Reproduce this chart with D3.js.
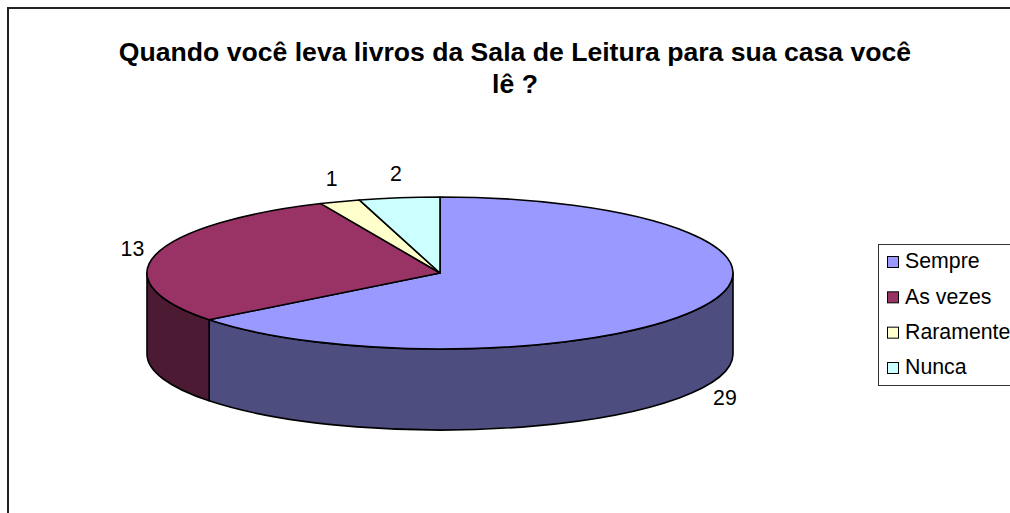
<!DOCTYPE html>
<html>
<head>
<meta charset="utf-8">
<script src="https://cdnjs.cloudflare.com/ajax/libs/d3/7.8.5/d3.min.js"></script>
<style>
  html, body { margin: 0; padding: 0; background: #fff; }
  svg { display: block; }
  text { font-family: "Liberation Sans", Arial, sans-serif; fill: #000; }
</style>
</head>
<body>
<div id="chart"></div>
<script>
const categories = ["Sempre", "As vezes", "Raramente", "Nunca"];
const values = [29, 13, 1, 2];
const topColors = ["#9999ff", "#993366", "#ffffcc", "#ccffff"];
const sideColors = ["#4d4d80", "#4d1a33", "#808066", "#668080"];
const titleLines = ["Quando você leva livros da Sala de Leitura para sua casa você", "lê ?"];

const width = 1010, height = 513;
const cx = 440, cy = 273, rx = 293, ry = 76, depth = 81;

const svg = d3.select("#chart")
  .append("svg")
    .attr("width", width)
    .attr("height", height);

// outer frame, runs off the right and bottom of the picture
svg.append("rect")
  .attr("x", 8)
  .attr("y", 8)
  .attr("width", width + 20)
  .attr("height", height + 20)
  .attr("fill", "#fff")
  .attr("stroke", "#222")
  .attr("stroke-width", 2);

// title
svg.selectAll(".title")
  .data(titleLines)
  .join("text")
    .attr("class", "title")
    .attr("x", 515)
    .attr("y", (d, i) => 61 + i * 32)
    .attr("text-anchor", "middle")
    .style("font-size", "26.6px")
    .style("font-weight", "bold")
    .text(d => d);

const pie = d3.pie().sort(null);
const arcs = pie(values);

// angle is clockwise from 12 o'clock, same as d3.pie
const px = a => cx + rx * Math.sin(a);
const py = a => cy - ry * Math.cos(a);

// side walls: only the front half of the ellipse shows
const front = [Math.PI / 2, 3 * Math.PI / 2];
svg.append("g").selectAll("path")
  .data(arcs.filter(d => d.endAngle > front[0] && d.startAngle < front[1]))
  .join("path")
    .attr("d", d => {
      const a0 = Math.max(d.startAngle, front[0]);
      const a1 = Math.min(d.endAngle, front[1]);
      return `M${px(a0)},${py(a0)}`
        + `A${rx},${ry} 0 0 1 ${px(a1)},${py(a1)}`
        + `L${px(a1)},${py(a1) + depth}`
        + `A${rx},${ry} 0 0 0 ${px(a0)},${py(a0) + depth}Z`;
    })
    .attr("fill", d => sideColors[d.index])
    .attr("stroke", "#000")
    .attr("stroke-width", 1.6)
    .attr("stroke-linejoin", "round");

// top face
svg.append("g").selectAll("path")
  .data(arcs)
  .join("path")
    .attr("d", d => {
      const large = d.endAngle - d.startAngle > Math.PI ? 1 : 0;
      return `M${cx},${cy}L${px(d.startAngle)},${py(d.startAngle)}`
        + `A${rx},${ry} 0 ${large} 1 ${px(d.endAngle)},${py(d.endAngle)}Z`;
    })
    .attr("fill", d => topColors[d.index])
    .attr("stroke", "#000")
    .attr("stroke-width", 1.6)
    .attr("stroke-linejoin", "round");

// value labels sit just outside the rim
const labelGap = 24;
svg.append("g").selectAll("text")
  .data(arcs)
  .join("text")
    .attr("x", d => cx + (rx + labelGap) * Math.sin((d.startAngle + d.endAngle) / 2))
    .attr("y", d => {
      const mid = (d.startAngle + d.endAngle) / 2;
      const y = cy - (ry + labelGap) * Math.cos(mid);
      return y + (Math.cos(mid) < 0 ? depth : 0);
    })
    .attr("dy", "0.35em")
    .attr("text-anchor", "middle")
    .style("font-size", "21.3px")
    .text(d => d.value);

// legend
const legendY = d3.scalePoint()
  .domain(categories)
  .range([262, 368]);

svg.append("rect")
  .attr("x", 878.5)
  .attr("y", 244.5)
  .attr("width", 160)
  .attr("height", 141)
  .attr("fill", "#fff")
  .attr("stroke", "#333")
  .attr("stroke-width", 1);

const legend = svg.append("g").selectAll("g")
  .data(categories)
  .join("g")
    .attr("transform", d => `translate(0,${legendY(d)})`);

legend.append("rect")
  .attr("x", 887.5)
  .attr("y", -5.5)
  .attr("width", 11)
  .attr("height", 11)
  .attr("fill", (d, i) => topColors[i])
  .attr("stroke", "#000")
  .attr("stroke-width", 1);

legend.append("text")
  .attr("x", 905)
  .attr("y", -1)
  .attr("dy", "0.35em")
  .style("font-size", "21.3px")
  .text(d => d);
</script>
</body>
</html>
